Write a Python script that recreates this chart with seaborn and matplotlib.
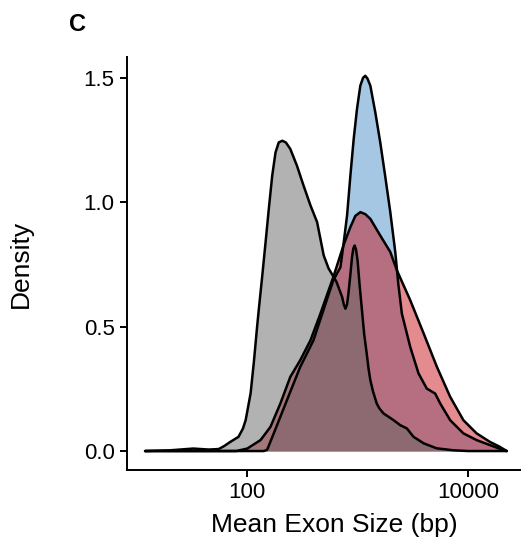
import numpy as np
import matplotlib
matplotlib.use("Agg")
import matplotlib.pyplot as plt
import seaborn as sns

# Density curves (x in log10 bp, y = density)
gray_logx = [1.073, 1.30, 1.51, 1.65, 1.74, 1.79, 1.85, 1.92, 1.96, 1.985, 2.03, 2.06,
             2.09, 2.105, 2.136, 2.166, 2.195, 2.226, 2.256, 2.285, 2.317, 2.35, 2.39,
             2.45, 2.51, 2.573, 2.633, 2.663, 2.693, 2.738, 2.784, 2.81, 2.86, 2.875,
             2.89, 2.905, 2.917, 2.935, 2.95, 2.962, 2.974, 2.986, 3.0, 3.02, 3.04, 3.06,
             3.083, 3.1, 3.116, 3.14, 3.174, 3.2, 3.236, 3.327, 3.387, 3.447, 3.508,
             3.6, 3.717, 3.87, 4.0, 4.353]
gray_dens = [0, 0.003, 0.01, 0.006, 0.008, 0.02, 0.038, 0.057, 0.09, 0.124, 0.232, 0.36,
             0.505, 0.572, 0.706, 0.84, 0.973, 1.107, 1.20, 1.24, 1.247, 1.24, 1.214,
             1.147, 1.067, 0.987, 0.92, 0.853, 0.786, 0.733, 0.699, 0.679, 0.619, 0.59,
             0.572, 0.59, 0.632, 0.71, 0.78, 0.815, 0.826, 0.81, 0.766, 0.66, 0.566, 0.47,
             0.392, 0.33, 0.285, 0.24, 0.191, 0.17, 0.151, 0.124, 0.104, 0.091, 0.057,
             0.031, 0.011, 0.003, 0, 0]

blue_logx = [1.073, 2.15, 2.18, 2.24, 2.36, 2.48, 2.60, 2.72, 2.78, 2.845, 2.875, 2.905,
             2.935, 2.965, 2.995, 3.025, 3.05, 3.07, 3.09, 3.116, 3.161, 3.206, 3.25,
             3.297, 3.342, 3.37, 3.402, 3.478, 3.553, 3.628, 3.704, 3.75, 3.84, 3.96,
             4.08, 4.2, 4.32, 4.353]
blue_dens = [0, 0, 0.005, 0.071, 0.205, 0.338, 0.445, 0.606, 0.686, 0.739, 0.84, 0.947,
             1.107, 1.254, 1.375, 1.468, 1.50, 1.508, 1.497, 1.468, 1.361, 1.24, 1.107,
             0.96, 0.80, 0.67, 0.552, 0.418, 0.312, 0.251, 0.231, 0.191, 0.124, 0.071,
             0.044, 0.024, 0.004, 0]

red_logx = [1.073, 1.9, 2.0, 2.12, 2.21, 2.30, 2.39, 2.48, 2.573, 2.663, 2.78, 2.875,
            2.935, 2.98, 3.025, 3.07, 3.116, 3.206, 3.297, 3.357, 3.478, 3.6, 3.72,
            3.84, 3.96, 4.08, 4.2, 4.29, 4.353]
red_dens = [0, 0, 0.01, 0.044, 0.097, 0.191, 0.298, 0.365, 0.445, 0.552, 0.699, 0.83,
            0.90, 0.945, 0.96, 0.952, 0.933, 0.866, 0.80, 0.726, 0.606, 0.472, 0.338,
            0.218, 0.124, 0.071, 0.037, 0.017, 0]

x_ticks = [100, 10000]
x_tick_labels = ["100", "10000"]
y_ticks = [0.0, 0.5, 1.0, 1.5]
y_tick_labels = ["0.0", "0.5", "1.0", "1.5"]

sns.set_theme(style="ticks")
plt.rcParams["font.family"] = ["Liberation Sans", "DejaVu Sans"]
plt.rcParams["text.color"] = "black"

fig = plt.figure(figsize=(5.21, 5.43), dpi=100)
ax = fig.add_axes([0.2438, 0.1348, 0.7635, 0.760])

# drawing order: blue, red, gray (later fills tint earlier outlines)
curves = [
    (blue_logx, blue_dens, "#4D91C9"),
    (red_logx, red_dens, "#C8191E"),
    (gray_logx, gray_dens, "#666666"),
]
for lx, d, col in curves:
    x = 10 ** np.array(lx)
    ax.fill_between(x, d, 0, color=col, alpha=0.5, linewidth=0)
    sns.lineplot(x=x, y=d, ax=ax, color="black", linewidth=1.8, sort=False,
                 estimator=None)

ax.set_xscale("log")
ax.set_xlim(10 ** 0.909, 10 ** 4.517)
ax.set_ylim(-0.0754, 1.583)
ax.set_xticks(x_ticks)
ax.set_xticklabels(x_tick_labels)
ax.minorticks_off()
ax.set_yticks(y_ticks)
ax.set_yticklabels(y_tick_labels)

for s in ["top", "right"]:
    ax.spines[s].set_visible(False)
for s in ["left", "bottom"]:
    ax.spines[s].set_linewidth(1.4)
    ax.spines[s].set_color("black")
ax.tick_params(axis="both", length=5, width=1.4, color="black",
               labelsize=16, labelcolor="black", pad=4)

ax.set_xlabel("Mean Exon Size (bp)", fontsize=19, color="black")
ax.set_ylabel("Density", fontsize=19, color="black")
ax.xaxis.set_label_coords(0.5216, -0.105)
ax.yaxis.set_label_coords(-0.236, 0.5)

fig.text(69 / 521, 1 - 31 / 543, "C", fontsize=17, fontweight="bold",
         color="black", ha="left", va="baseline")

fig.savefig("out.png", dpi=100)
